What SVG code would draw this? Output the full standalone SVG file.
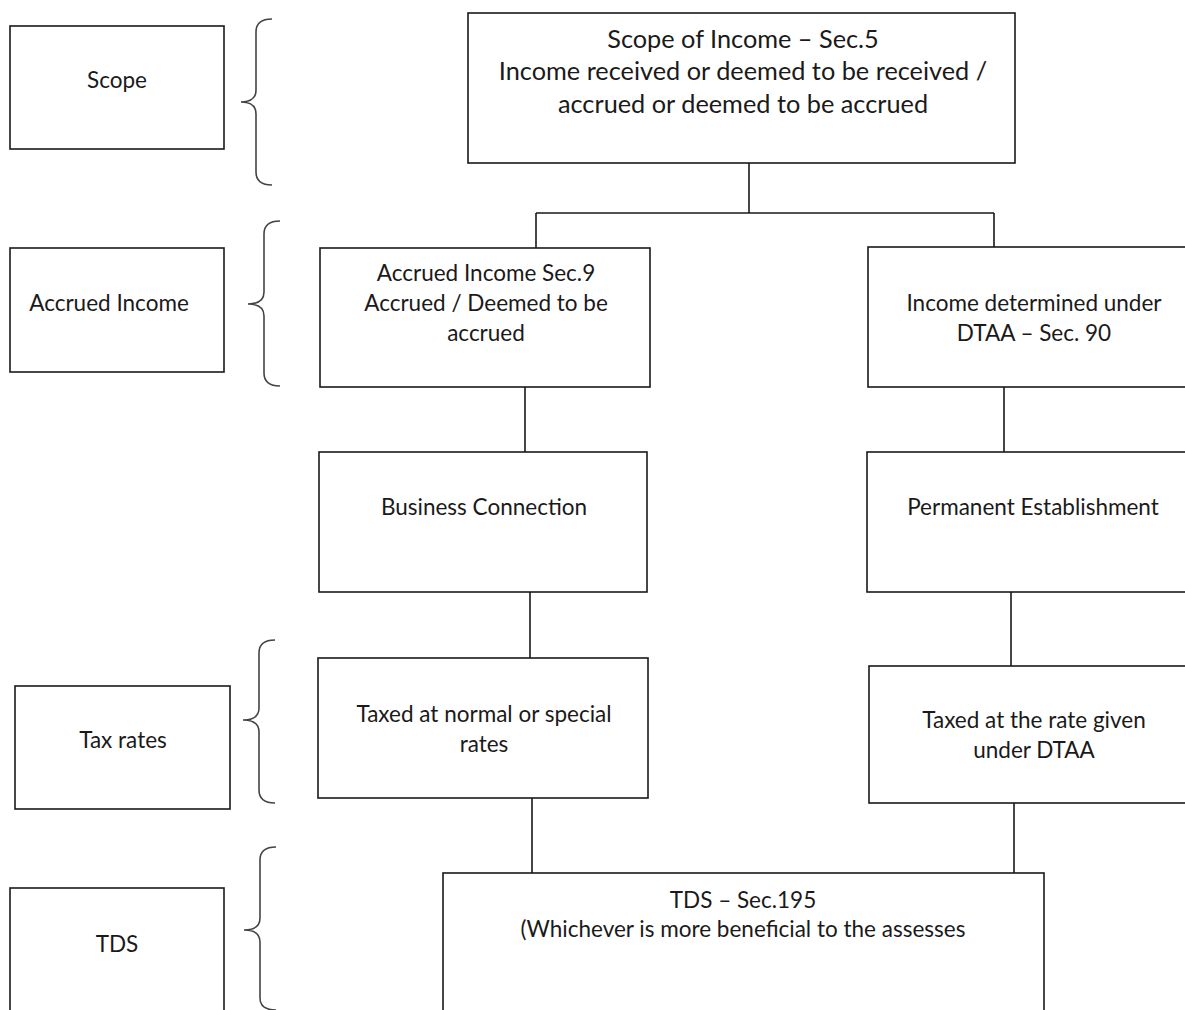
<svg xmlns="http://www.w3.org/2000/svg" width="1185" height="1010" viewBox="0 0 1185 1010">
<style>
.box{fill:#fff;stroke:#1a1a1a;stroke-width:1.6}
.t{font-family:Lato,"Open Sans","Liberation Sans",sans-serif;font-size:22.5px;fill:#1a1a1a;text-anchor:middle}
.big{font-size:25.3px}
.c{stroke:#1a1a1a;stroke-width:1.6;fill:none}
.br{stroke:#444;stroke-width:1.6;fill:none}
</style>
<rect width="1185" height="1010" fill="#fff"/>
<g id="braces">
<path class="br" d="M272,19 Q256,19 256,32 L256,90 Q256,102 241,102 Q256,102 256,114 L256,172 Q256,185 272,185"/>
<path class="br" d="M280,221 Q264,221 264,234 L264,292 Q264,304 248,304 Q264,304 264,316 L264,373 Q264,386 280,386"/>
<path class="br" d="M275,640 Q259,640 259,653 L259,708 Q259,720 243,720 Q259,720 259,732 L259,790 Q259,803 275,803"/>
<path class="br" d="M276,847 Q260,847 260,860 L260,918 Q260,930 244,930 Q260,930 260,942 L260,998 Q260,1010 276,1010"/>
</g>
<g id="connectors">
<path class="c" d="M749,163 V213 M536,213 H994 M536,213 V248 M994,213 V247"/>
<path class="c" d="M525,387 V452 M1004,387 V452"/>
<path class="c" d="M530,592 V658 M1011,592 V666"/>
<path class="c" d="M532,798 V873 M1014,803 V873"/>
</g>
<g id="n-scope"><rect class="box" x="10" y="26" width="214" height="123"/><text class="t" x="117" y="88">Scope</text></g>
<g id="n-scope-income"><rect class="box" x="468" y="13" width="547" height="150"/>
<text class="t big" x="743" y="48">Scope of Income – Sec.5</text>
<text class="t big" x="743" y="80">Income received or deemed to be received /</text>
<text class="t big" x="743" y="113">accrued or deemed to be accrued</text></g>
<g id="n-accrued-label"><rect class="box" x="10" y="248" width="214" height="124"/><text class="t" x="109" y="311">Accrued Income</text></g>
<g id="n-accrued"><rect class="box" x="320" y="248" width="330" height="139"/>
<text class="t" x="486" y="281">Accrued Income Sec.9</text>
<text class="t" x="486" y="311">Accrued / Deemed to be</text>
<text class="t" x="486" y="341">accrued</text></g>
<g id="n-dtaa"><rect class="box" x="868" y="247" width="330" height="140"/>
<text class="t" x="1034" y="311">Income determined under</text>
<text class="t" x="1034" y="341">DTAA – Sec. 90</text></g>
<g id="n-business"><rect class="box" x="319" y="452" width="328" height="140"/><text class="t" x="484" y="515">Business Connection</text></g>
<g id="n-pe"><rect class="box" x="867" y="452" width="330" height="140"/><text class="t" x="1033" y="515">Permanent Establishment</text></g>
<g id="n-taxrates"><rect class="box" x="15" y="686" width="215" height="123"/><text class="t" x="123" y="748">Tax rates</text></g>
<g id="n-normal"><rect class="box" x="318" y="658" width="330" height="140"/>
<text class="t" x="484" y="722">Taxed at normal or special</text>
<text class="t" x="484" y="752">rates</text></g>
<g id="n-dtaarate"><rect class="box" x="869" y="666" width="330" height="137"/>
<text class="t" x="1034" y="728">Taxed at the rate given</text>
<text class="t" x="1034" y="758">under DTAA</text></g>
<g id="n-tds-label"><rect class="box" x="10" y="888" width="214" height="140"/><text class="t" x="117" y="952">TDS</text></g>
<g id="n-tds"><rect class="box" x="443" y="873" width="601" height="160"/>
<text class="t" x="743" y="908">TDS – Sec.195</text>
<text class="t" x="743" y="937">(Whichever is more beneficial to the assesses</text></g>
</svg>
